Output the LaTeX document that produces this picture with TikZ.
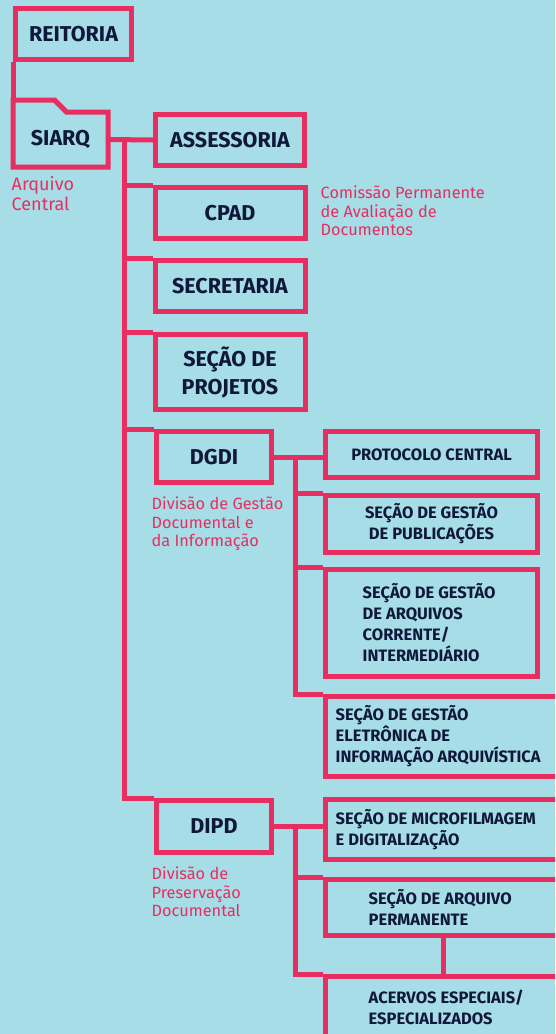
\documentclass[tikz,border=0pt]{standalone}
\usepackage{fontspec}
\setmainfont{Fira Sans}
\usepackage{tikz}
\usetikzlibrary{positioning}

\definecolor{fundo}{RGB}{166,221,230}
\definecolor{rosa}{RGB}{230,46,96}
\definecolor{marinho}{RGB}{16,24,58}

\begin{document}
\begin{tikzpicture}[x=1pt,y=-1pt,
    caixa/.style={draw=rosa, line width=5pt, inner sep=0pt, text=marinho, align=center,
      font=\bfseries\fontsize{21.5}{28}\selectfont},
    caixinha/.style={caixa, font=\bfseries\fontsize{16.5}{21}\selectfont},
    rotulo/.style={inner sep=0pt, text=marinho, align=left, anchor=west,
      font=\bfseries\fontsize{16.5}{21}\selectfont},
    nota/.style={inner sep=0pt, text=rosa, align=left, anchor=north west,
      font=\fontsize{16.3}{18.5}\selectfont},
    liga/.style={draw=rosa, line width=5pt}]
  \useasboundingbox (0,0) rectangle (555,1034);
  \clip (0,0) rectangle (555,1034);
  \fill[fundo] (0,0) rectangle (555,1034);

  % topo
  \node[caixa, minimum width=116, minimum height=51] (reitoria) at (73.5,34) {REITORIA};
  \node[caixa, draw=none, minimum width=90, minimum height=50] (siarq) at (60.5,139.5) {SIARQ};
  \draw[liga] (siarq.south west) -- ([yshift=12pt]siarq.north west) -- ++(41.5,0)
    -- ++(12,12) -- (siarq.north east) -- (siarq.south east) -- cycle;
  \draw[liga] (reitoria.south west) -- ([yshift=12pt]siarq.north west);
  \node[nota, font=\fontsize{18}{20.5}\selectfont] (siarqnota) at ([shift={(-1.5,9)}]siarq.south west) {Arquivo\\Central};

  % coluna do meio
  \node[caixa, minimum width=149, minimum height=51] (assessoria) at (230,140) {ASSESSORIA};
  \node[caixa, minimum width=150, minimum height=51] (cpad) at (230,213) {CPAD};
  \node[caixa, minimum width=150, minimum height=51] (secretaria) at (230,286) {SECRETARIA};
  \node[caixa, minimum width=150, minimum height=75] (projetos) at (230,372) {SEÇÃO DE\\PROJETOS};
  \node[caixa, minimum width=115, minimum height=51] (dgdi) at (214,457) {DGDI};
  \node[caixa, minimum width=115, minimum height=52] (dipd) at (214,826.5) {DIPD};
  \node[nota] (cpadnota) at ([shift={(13,1)}]cpad.north east) {Comissão Permanente\\de Avaliação de\\Documentos};
  \node[nota] (dgdinota) at ([shift={(-2.5,12)}]dgdi.south west) {Divisão de Gestão\\Documental e\\da Informação};
  \node[nota] (dipdnota) at ([shift={(-2.5,12)}]dipd.south west) {Divisão de\\Preservação\\Documental};

  \coordinate (tronco) at (124.5,139.5);
  \draw[liga] (siarq.east) -- (assessoria.west);
  \draw[liga] (tronco) |- (dipd.north west);
  \foreach \c in {cpad,secretaria,projetos,dgdi}
    \draw[liga] (tronco |- \c.north west) -- (\c.north west);

  % DGDI
  \node[caixinha, minimum width=212, minimum height=46] (protocolo) at (431.5,454.5) {PROTOCOLO CENTRAL};
  \node[caixinha, minimum width=212, minimum height=57] (publicacoes) at (431.5,524) {SEÇÃO DE GESTÃO\\DE PUBLICAÇÕES};
  \node[caixinha, minimum width=212, minimum height=107] (arquivos) at (431.5,623) {};
  \node[rotulo, right=39.5pt of arquivos.west] (arquivostxt) {SEÇÃO DE GESTÃO\\DE ARQUIVOS\\CORRENTE/\\INTERMEDIÁRIO};
  \node[caixinha, minimum width=236, minimum height=80] (eletronica) at (443.5,736.5) {};
  \node[rotulo, right=12.5pt of eletronica.west] (eletronicatxt) {SEÇÃO DE GESTÃO\\ELETRÔNICA DE\\INFORMAÇÃO ARQUIVÍSTICA};

  \coordinate (ramo) at (295,0);
  \draw[liga] (dgdi.east) -- (dgdi.east -| protocolo.west);
  \draw[liga] (dgdi.east -| ramo) |- (eletronica.north west);
  \foreach \c in {publicacoes,arquivos}
    \draw[liga] (ramo |- \c.north west) -- (\c.north west);

  % DIPD
  \node[caixinha, minimum width=236, minimum height=60] (micro) at (443.5,829.5) {};
  \node[rotulo, right=12.5pt of micro.west] (microtxt) {SEÇÃO DE MICROFILMAGEM\\E DIGITALIZAÇÃO};
  \node[caixinha, minimum width=236, minimum height=56] (permanente) at (443.5,907.5) {};
  \node[rotulo, right=45.5pt of permanente.west] (permanentetxt) {SEÇÃO DE ARQUIVO\\PERMANENTE};
  \node[caixinha, minimum width=236, minimum height=62] (acervos) at (443.5,1007.5) {};
  \node[rotulo, right=45.5pt of acervos.west] (acervostxt) {ACERVOS ESPECIAIS/\\ESPECIALIZADOS};

  \draw[liga] (dipd.east) -- (dipd.east -| micro.west);
  \draw[liga] (dipd.east -| ramo) |- (acervos.north west);
  \draw[liga] (ramo |- permanente.north west) -- (permanente.north west);
  \draw[liga] (permanente.south) -- (permanente.south |- acervos.north);
\end{tikzpicture}
\end{document}
